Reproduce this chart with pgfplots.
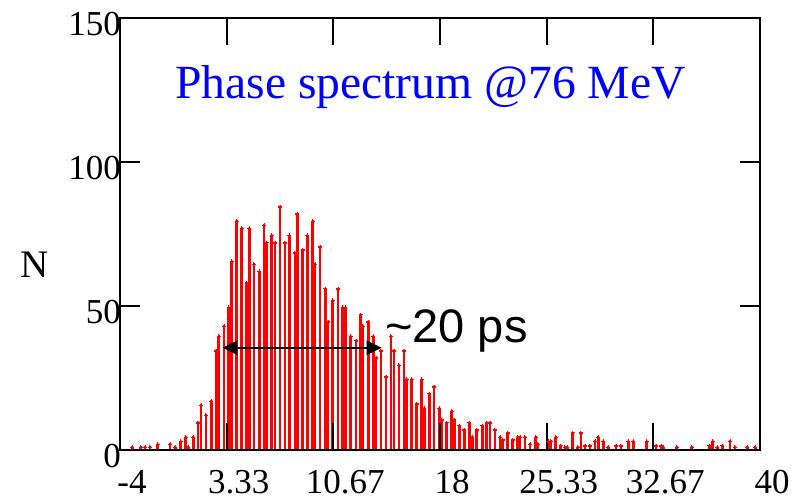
\documentclass[border=0pt]{standalone}
\usepackage{pgfplots}
\pgfplotsset{compat=1.18}
\usepackage{fontspec}
\setmainfont{Liberation Serif}
\newfontfamily\arialfont{Liberation Sans}
\usetikzlibrary{arrows.meta,calc}
\begin{document}
\begin{tikzpicture}
\begin{axis}[
  scale only axis, width=640pt, height=432pt,
  xmin=-4, xmax=40, ymin=0, ymax=150,
  axis on top, clip=false,
  axis line style={line width=2.2pt},
  tick style={line width=2.2pt, black},
  major tick length=27pt,
  tick align=inside,
  xtick={-4,3.3333,10.6667,18,25.3333,32.6667,40},
  xticklabels={-4,3.33,10.67,18,25.33,32.67,40},
  ytick={0,50,100,150},
  yticklabels={0,50,100,150},
  ytick style={/pgfplots/major tick length=20pt},
  xticklabel style={font=\fontsize{35}{40}\selectfont, inner sep=0pt, anchor=north, yshift=-20pt, xshift=12pt},
  yticklabel style={font=\fontsize{35}{40}\selectfont, inner sep=0pt, anchor=east, yshift=-6pt, xshift=1pt},
]
\addplot[ycomb, red, line width=2.7pt, mark=*, mark size=1.5pt, mark options={fill=red, draw=red, line width=0pt}] coordinates {
(-3.15,1) (-2.58,1) (-2.28,1) (-1.94,1) (-1.41,2) (-0.56,2) (-0.20,1) (0.17,3) (0.52,4.5) (0.70,1)
(1.04,4.5) (1.36,9.5) (1.57,15.5) (1.91,12) (2.28,17) (2.60,34.5) (2.79,39.5) (3.15,43) (3.47,49.5) (3.68,65.5)
(4.02,79.5) (4.37,77) (4.71,58) (4.89,77) (5.21,64.5) (5.58,62) (5.90,78) (6.09,72) (6.43,74.5) (6.66,72)
(7.00,84.5) (7.34,72) (7.64,74.5) (8.03,68.5) (8.19,82) (8.56,69.5) (8.88,74.5) (9.25,79.5) (9.41,64.5) (9.75,70.5)
(10.11,56) (10.30,44.5) (10.62,52) (10.99,56) (11.31,49.5) (11.49,49.5) (11.86,39.5) (12.23,38) (12.55,47) (12.69,43)
(13.07,44.5) (13.42,39.5) (13.60,32) (13.94,34.5) (14.29,25.5) (14.63,39.5) (14.84,34.5) (15.18,29.5) (15.53,34.5) (15.71,24.5)
(16.06,24.5) (16.40,16) (16.74,24.5) (16.92,14.5) (17.27,19.5) (17.59,22) (17.95,14.5) (18.12,10.5) (18.46,9.5) (18.81,13.5)
(18.98,10.5) (19.33,8.5) (19.67,7) (20.02,9.5) (20.22,4.5) (20.52,7) (20.91,8.5) (21.21,9.5) (21.44,9.5) (21.78,7)
(22.13,4.5) (22.31,3.5) (22.66,6) (23.00,3.5) (23.34,4.5) (23.50,4.5) (23.84,4.5) (24.19,2) (24.58,4.5) (24.72,2)
(25.45,3) (25.63,3) (25.96,4.5) (26.30,1.5) (26.59,1) (26.75,1) (27.12,6) (27.47,1) (27.69,6) (27.97,1.5)
(28.31,1.5) (28.66,3) (28.88,4.5) (29.23,3) (29.57,1) (30.10,1.5) (30.44,1.5) (30.95,3) (31.29,3) (32.21,3)
(32.85,1.5) (33.20,1.5) (33.35,1) (34.27,1) (35.31,1) (36.52,1.5) (36.75,3) (37.07,1) (37.41,1.5) (37.94,3)
(38.28,1) (39.13,1) (39.68,1)
};
\draw[{Triangle[length=15pt,width=14pt]}-{Triangle[length=15pt,width=14pt]}, line width=2.5pt, black]
  (axis cs:3.04,35.5) -- (axis cs:13.99,35.5);
\node[anchor=base west, inner sep=0pt, font=\arialfont\fontsize{47}{50}\selectfont] at (axis cs:14.22,37.2) {\textasciitilde20 ps};
\node[anchor=base west, inner sep=0pt, text=blue, font=\fontsize{47.6}{52}\selectfont] at (rel axis cs:0.0859,0.814) {Phase spectrum @76 MeV};
\node[anchor=base, inner sep=0pt, font=\fontsize{39}{42}\selectfont] at (rel axis cs:-0.134,0.40) {N};
\end{axis}
\path (current axis.south west) ++(-120pt,-51pt) rectangle ($(current axis.north east)+(34pt,18pt)$);
\end{tikzpicture}
\end{document}
